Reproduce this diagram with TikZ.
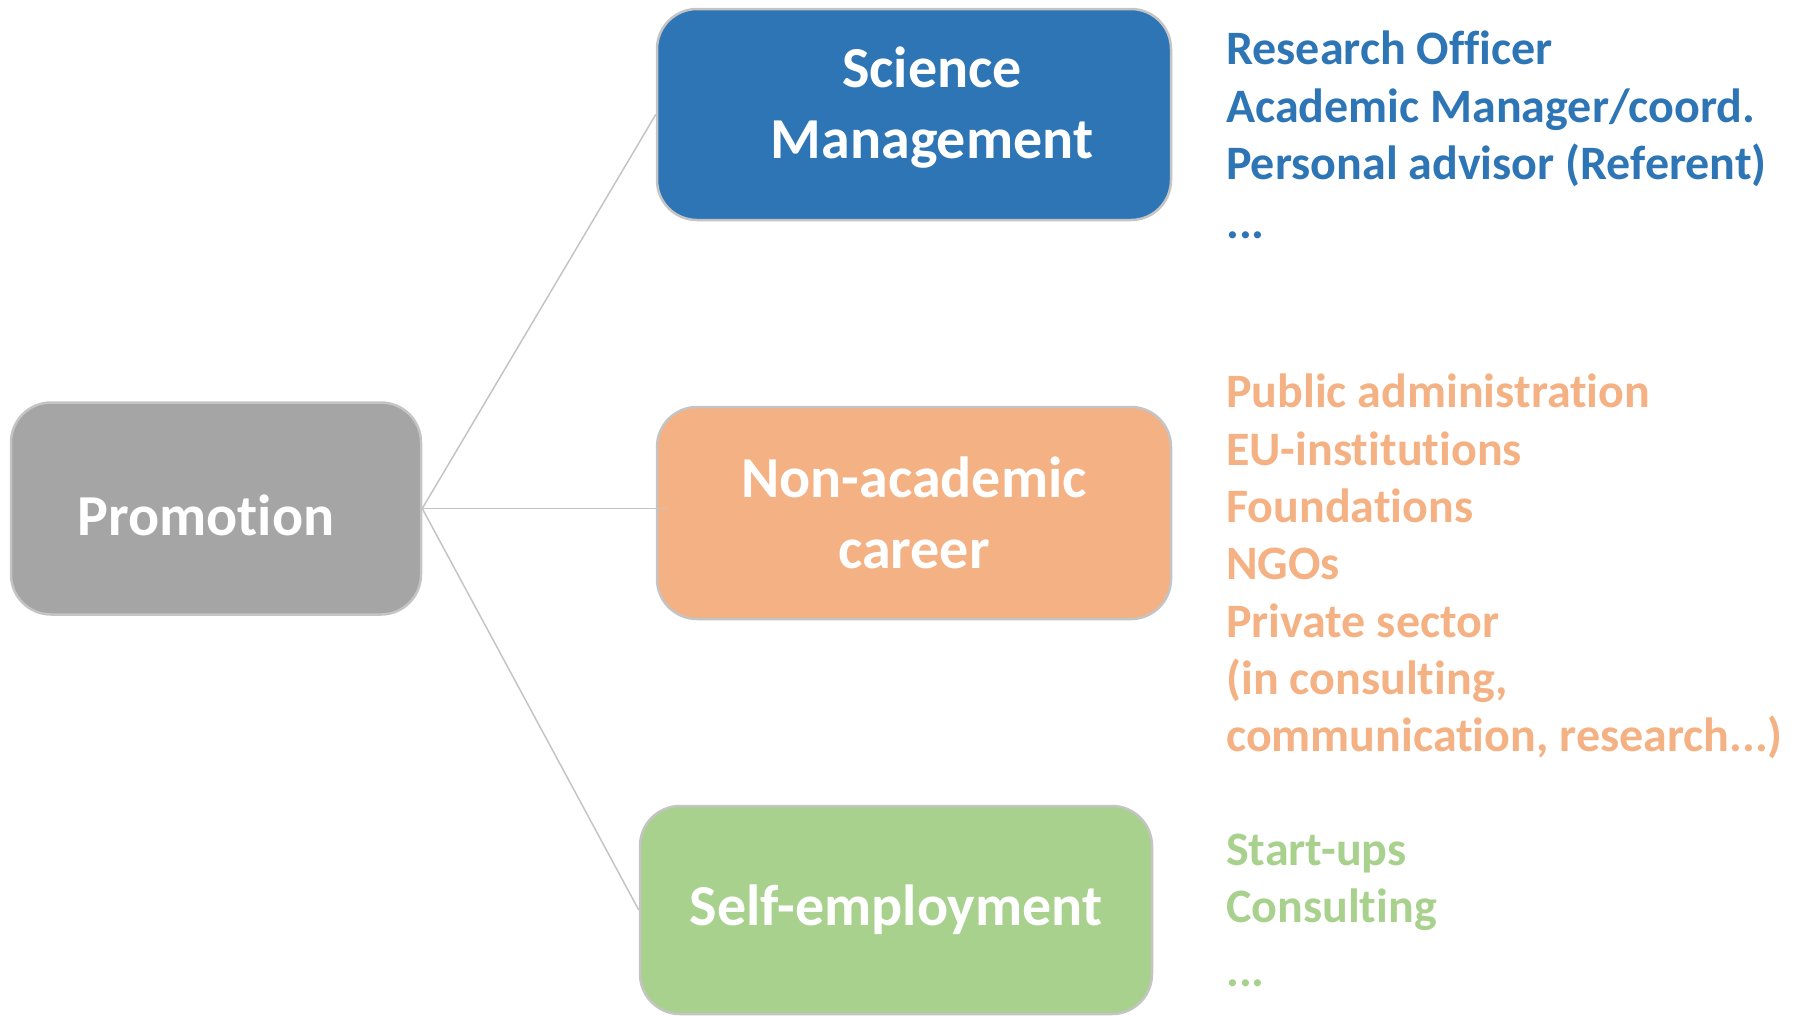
\documentclass[tikz,border=0pt]{standalone}
\usepackage{fontspec}
\setmainfont{Carlito}[Ligatures=NoCommon]
\usetikzlibrary{calc}
\definecolor{sciblue}{HTML}{2E75B6}
\definecolor{nonorange}{HTML}{F4B183}
\definecolor{selfgreen}{HTML}{A9D18E}
\definecolor{promgray}{HTML}{A5A5A5}
\definecolor{edgegray}{HTML}{C4C4C4}
\tikzset{
  box/.style={draw=edgegray, line width=2.5pt, rounded corners=40pt, text=white,
    font=\fontsize{58}{71}\selectfont\bfseries, align=center, inner sep=0pt},
  conn/.style={draw=edgegray, line width=1.5pt},
  listtext/.style={anchor=north west, inner sep=0pt, align=left,
    font=\fontsize{48}{57.3}\selectfont\bfseries}
}
\begin{document}
\begin{tikzpicture}[x=1pt,y=-1pt]
\useasboundingbox (0,0) rectangle (1798,1015);
\node[box, fill=promgray, minimum width=410pt, minimum height=212pt, text height=54pt, text depth=0pt] (prom) at (216,508.5) {Promotion\hspace*{20pt}};
\node[box, fill=sciblue, minimum width=514pt, minimum height=211pt, text depth=24pt] (sci) at (914,114.5) {\hspace*{36pt}Science\\\hspace*{36pt}Management};
\node[box, fill=nonorange, minimum width=514pt, minimum height=212pt] (non) at (914,513) {Non-academic\\career};
\node[box, fill=selfgreen, minimum width=512pt, minimum height=208pt] (self) at (896,910) {Self-employment};
\draw[conn] (prom.east) -- (sci.west);
\draw[conn, shorten >=-11pt] (prom.east) -- (prom.east -| non.west);
\draw[conn] (prom.east) -- (self.west);
\node[listtext, text=sciblue] (scilist) at (1226,31) {Research Officer\\Academic Manager/coord.\\Personal advisor (Referent)\\[2pt]...};
\node[listtext, text=nonorange] (nonlist) at (1226,374) {Public administration\\EU-institutions\\Foundations\\NGOs\\Private sector\\(in consulting,\\communication, research...)};
\node[listtext, text=selfgreen] (selflist) at (1226,834) {Start-ups\\Consulting\\[6pt]...};
\end{tikzpicture}
\end{document}
